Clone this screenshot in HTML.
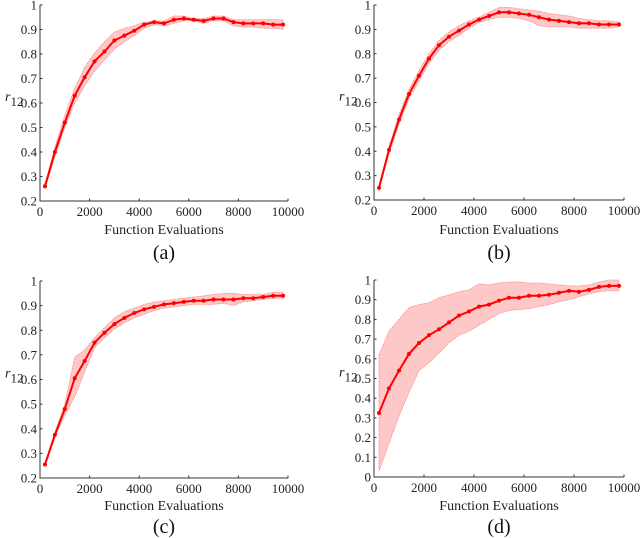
<!DOCTYPE html>
<html><head><meta charset="utf-8"><style>
html,body{margin:0;padding:0;background:#fff;}
svg{display:block;}
svg text{font-family:'Liberation Serif','DejaVu Serif',serif;}
</style></head><body>
<svg id="fig" width="640" height="538" viewBox="0 0 640 538" xmlns="http://www.w3.org/2000/svg"></svg>
<script>
const xs = [200,600,1000,1400,1800,2200,2600,3000,3400,3800,4200,4600,5000,5400,5800,6200,6600,7000,7400,7800,8200,8600,9000,9400,9800];
const xTicks = [0,2000,4000,6000,8000,10000];
const yTicksA = [0.2,0.3,0.4,0.5,0.6,0.7,0.8,0.9,1];
const yTicksD = [0,0.1,0.2,0.3,0.4,0.5,0.6,0.7,0.8,0.9,1];
const yTickLabelsA = ["0.2","0.3","0.4","0.5","0.6","0.7","0.8","0.9","1"];
const yTickLabelsD = ["0","0.1","0.2","0.3","0.4","0.5","0.6","0.7","0.8","0.9","1"];

const meanA = [0.26,0.40,0.52,0.63,0.705,0.77,0.81,0.855,0.875,0.895,0.92,0.93,0.925,0.94,0.945,0.94,0.935,0.945,0.945,0.93,0.925,0.925,0.925,0.92,0.92];
const upA = [0.27,0.42,0.55,0.66,0.745,0.805,0.85,0.89,0.905,0.915,0.93,0.935,0.935,0.955,0.955,0.945,0.945,0.955,0.955,0.94,0.94,0.94,0.94,0.94,0.94];
const loA = [0.25,0.38,0.50,0.60,0.67,0.73,0.775,0.82,0.85,0.875,0.905,0.92,0.915,0.925,0.935,0.935,0.925,0.935,0.935,0.915,0.91,0.91,0.905,0.905,0.90];

const meanB = [0.25,0.405,0.53,0.635,0.71,0.78,0.835,0.87,0.895,0.92,0.94,0.955,0.97,0.97,0.965,0.96,0.95,0.94,0.935,0.93,0.925,0.925,0.92,0.92,0.92];
const upB = [0.26,0.42,0.55,0.655,0.73,0.80,0.855,0.89,0.915,0.935,0.95,0.97,0.99,0.99,0.985,0.98,0.975,0.965,0.96,0.955,0.945,0.94,0.935,0.935,0.93];
const loB = [0.24,0.39,0.51,0.615,0.69,0.76,0.815,0.85,0.875,0.905,0.93,0.94,0.95,0.95,0.945,0.935,0.915,0.91,0.91,0.91,0.905,0.905,0.905,0.905,0.91];

const meanC = [0.255,0.375,0.48,0.605,0.675,0.75,0.79,0.825,0.85,0.87,0.885,0.895,0.905,0.91,0.915,0.92,0.92,0.925,0.925,0.925,0.93,0.93,0.935,0.94,0.94];
const upC = [0.26,0.385,0.50,0.69,0.72,0.77,0.81,0.85,0.875,0.89,0.905,0.915,0.92,0.925,0.93,0.935,0.94,0.945,0.95,0.95,0.945,0.945,0.945,0.955,0.955];
const loC = [0.25,0.365,0.455,0.53,0.63,0.73,0.77,0.805,0.83,0.85,0.865,0.88,0.89,0.895,0.90,0.905,0.905,0.905,0.91,0.90,0.915,0.92,0.925,0.93,0.93];

const meanD = [0.325,0.45,0.54,0.625,0.68,0.72,0.75,0.785,0.82,0.84,0.865,0.875,0.895,0.91,0.91,0.92,0.92,0.925,0.935,0.945,0.94,0.95,0.965,0.97,0.97];
const upD = [0.62,0.74,0.80,0.86,0.875,0.885,0.91,0.925,0.94,0.95,0.98,0.975,0.985,0.99,0.99,0.985,0.985,0.98,0.975,0.97,0.97,0.975,0.99,1.0,1.0];
const loD = [0.03,0.17,0.31,0.43,0.54,0.58,0.63,0.68,0.72,0.74,0.77,0.80,0.83,0.845,0.85,0.855,0.865,0.875,0.89,0.90,0.915,0.93,0.94,0.945,0.945];

const panels = [
  {id:'a', x0:40, x1:288, yT:5, yB:201, ymin:0.2, ymax:1, ticks:yTicksA, labels:yTickLabelsA, mean:meanA, up:upA, lo:loA, xl:230, cap:253},
  {id:'b', x0:374, x1:624, yT:5, yB:200, ymin:0.2, ymax:1, ticks:yTicksA, labels:yTickLabelsA, mean:meanB, up:upB, lo:loB, xl:230, cap:253},
  {id:'c', x0:40, x1:288, yT:281, yB:478, ymin:0.2, ymax:1, ticks:yTicksA, labels:yTickLabelsA, mean:meanC, up:upC, lo:loC, xl:506, cap:527},
  {id:'d', x0:374, x1:624, yT:280, yB:477, ymin:0, ymax:1, ticks:yTicksD, labels:yTickLabelsD, mean:meanD, up:upD, lo:loD, xl:506, cap:527}
];
const NS='http://www.w3.org/2000/svg';
const FONT="Liberation Serif, DejaVu Serif, serif";
const svg=document.getElementById('fig');
function mk(tag,attrs,parent,text){const e=document.createElementNS(NS,tag);for(const k in attrs)e.setAttribute(k,attrs[k]);if(tag==='text'){e.setAttribute('font-family',FONT);e.style.fontFamily="'Liberation Serif','DejaVu Serif',serif";}if(text!==undefined)e.textContent=text;parent.appendChild(e);return e;}
panels.forEach(p=>{
  const g=mk('g',{},svg);
  
  
  const sx=v=>p.x0+(v-0)/(10000-0)*(p.x1-p.x0);
  const sy=v=>p.yB-(v-p.ymin)/(p.ymax-p.ymin)*(p.yB-p.yT);
  let d='M'+xs.map((x,i)=>sx(x).toFixed(1)+','+sy(p.up[i]).toFixed(1)).join('L');
  d+='L'+xs.slice().reverse().map((x,j)=>{const i=xs.length-1-j;return sx(x).toFixed(1)+','+sy(p.lo[i]).toFixed(1);}).join('L')+'Z';
  const band=mk('path',{d:d,fill:'#ffc8c8',stroke:'#ff8080','stroke-width':0.8,'stroke-dasharray':'1.5,1'},g);
  
  
  const line=mk('polyline',{points:xs.map((x,i)=>sx(x).toFixed(1)+','+sy(p.mean[i]).toFixed(1)).join(' '),fill:'none',stroke:'#ff0000','stroke-width':2},g);
  
  
  xs.forEach((x,i)=>{
    const c=mk('circle',{cx:sx(x),cy:sy(p.mean[i]),r:2,fill:'#ff0000'},g);
    
    
  });
  const ax=mk('path',{d:`M${p.x0},${p.yT}V${p.yB}H${p.x1}`,fill:'none',stroke:'#333','stroke-width':1},g);
  
  
  xTicks.forEach(t=>{
    mk('line',{x1:sx(t),x2:sx(t),y1:p.yB,y2:p.yB-2.5,stroke:'#333'},g);
    const tl=mk('text',{x:sx(t),y:p.yB+15,'text-anchor':'middle','font-size':13,fill:'#222'},g,String(t));
    
    
  });
  p.ticks.forEach((t,i)=>{
    mk('line',{x1:p.x0,x2:p.x0+2.5,y1:sy(t),y2:sy(t),stroke:'#333'},g);
    const tl=mk('text',{x:p.x0-3,y:sy(t)+4.5,'text-anchor':'end','font-size':13,fill:'#222'},g,p.labels[i]);
    
    
  });
  const xt=mk('text',{x:(p.x0+p.x1)/2,y:p.xl+4,'text-anchor':'middle','font-size':14,fill:'#222'},g,'Function Evaluations');
  
  
  const ymid=(p.yT+p.yB)/2;
  const yt=mk('text',{x:p.x0-35,y:ymid-2,'font-size':14,fill:'#222'},g);
  
  
  mk('tspan',{'font-style':'italic'},yt,'r');
  mk('tspan',{dy:5,'font-size':13},yt,'12');
  const cap=mk('text',{x:(p.x0+p.x1)/2,y:p.cap+6,'text-anchor':'middle','font-size':20,fill:'#111'},g,'('+p.id+')');
  
  
});
</script>
</body></html>
